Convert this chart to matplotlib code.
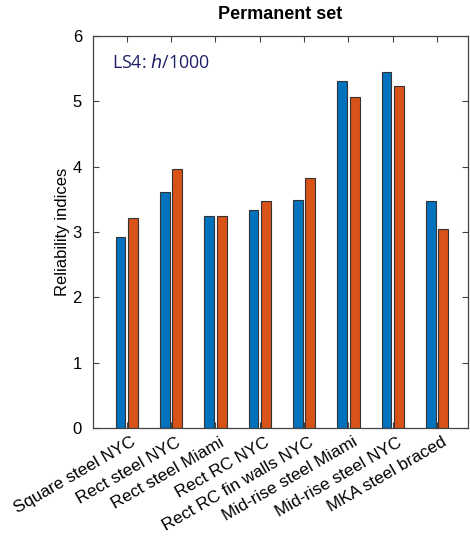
import numpy as np
import matplotlib
matplotlib.use("Agg")
import matplotlib.pyplot as plt
from matplotlib.transforms import ScaledTranslation

# data
categories = ["Square steel NYC", "Rect steel NYC", "Rect steel Miami", "Rect RC NYC",
              "Rect RC fin walls NYC", "Mid-rise steel Miami", "Mid-rise steel NYC",
              "MKA steel braced"]
series_a = [2.93, 3.62, 3.24, 3.33, 3.49, 5.31, 5.45, 3.47]
series_b = [3.22, 3.97, 3.25, 3.47, 3.82, 5.07, 5.23, 3.05]
y_ticks = [0, 1, 2, 3, 4, 5, 6]

plt.rcParams['font.family'] = ['Liberation Sans', 'DejaVu Sans']

fig = plt.figure(figsize=(4.70, 5.46), dpi=100)
ax = fig.add_axes([0.198, 0.216, 0.798, 0.718])

x = np.arange(1, len(categories) + 1)
w = 0.22
ax.bar(x - 0.14, series_a, width=w, color='#0072BD', edgecolor='#333333', linewidth=0.8)
ax.bar(x + 0.14, series_b, width=w, color='#D95319', edgecolor='#333333', linewidth=0.8)

ax.set_xlim(0.24, 8.7)
ax.set_ylim(0, 6)
ax.set_yticks(y_ticks)
ax.set_xticks(x)
ax.set_xticklabels([])
# rotated category labels, anchored a little right of and below each tick
lab_trans = ax.get_xaxis_transform() + ScaledTranslation(8 / 100, -13 / 100, fig.dpi_scale_trans)
for xi, name in zip(x, categories):
    ax.text(xi, 0, name, transform=lab_trans, rotation=30, ha='right', va='center',
            rotation_mode='anchor', fontsize=12.3, clip_on=False)
ax.tick_params(axis='y', labelsize=12, pad=8)
ax.tick_params(direction='in', top=True, right=True, length=4, color='#444444')
for s in ax.spines.values():
    s.set_color('#444444')
    s.set_linewidth(0.9)

ax.set_ylabel("Reliability indices", fontsize=12, labelpad=2)
ax.set_title("Permanent set", fontsize=13, fontweight='bold', pad=12)
ax.text(0.05, 0.955, "LS4: $\\mathit{h}$/1000", transform=ax.transAxes, color='#1f1f66',
        fontsize=12.8, family=['Open Sans', 'DejaVu Sans'], va='top', ha='left')

fig.savefig("out.png", dpi=100)
